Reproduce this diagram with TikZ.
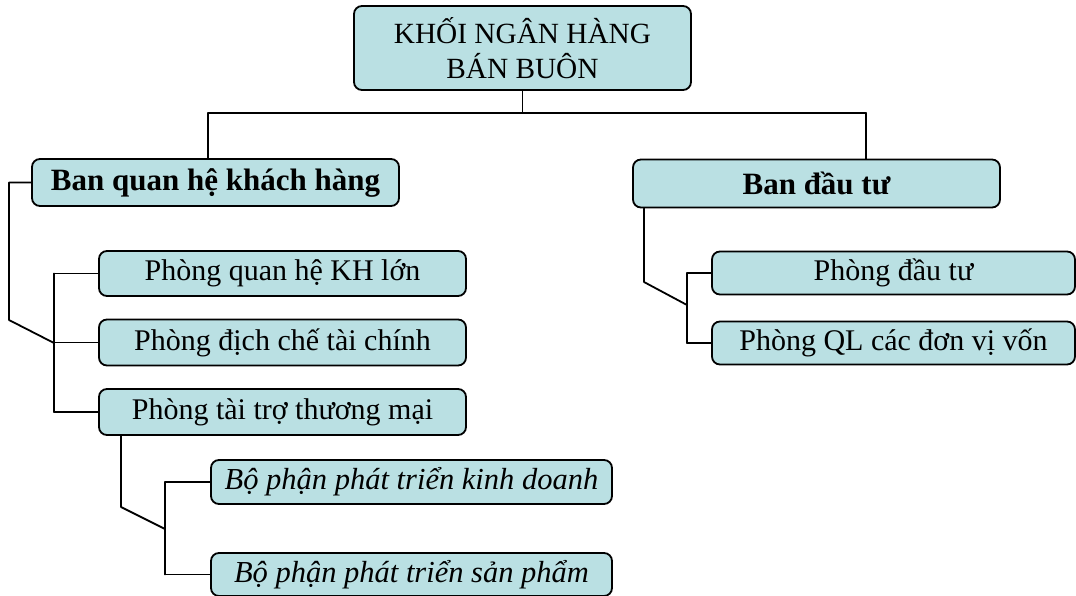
\documentclass[tikz,border=0pt]{standalone}
\usepackage{fontspec}
\setmainfont{Liberation Serif}
\definecolor{boxfill}{RGB}{186,224,227}
\begin{document}
\begin{tikzpicture}[x=1pt,y=-1pt,
  unit/.style={draw=black,line width=1.8pt,fill=boxfill,rounded corners=8pt,
    inner sep=0pt,align=center,font=\fontsize{30}{33}\selectfont},
  head/.style={font=\fontsize{31}{34}\selectfont\bfseries},
  sub/.style={font=\fontsize{30.5}{34}\selectfont\itshape},
  link/.style={line width=1.8pt,line cap=round,line join=round}]
\useasboundingbox (0,0) rectangle (1076,596);

% head office
\node[unit,font=\fontsize{29.3}{35}\selectfont,minimum width=337pt,minimum height=84pt] (top) at (522.5,48) {KHỐI NGÂN HÀNG\\BÁN BUÔN};

% departments
\node[unit,head,minimum width=367pt,minimum height=47pt] (ban1) at (215.5,182.5) {Ban quan hệ khách hàng};
\node[unit,head,minimum width=367pt,minimum height=48pt] (ban2) at (816.5,183.5) {Ban đầu tư};

% client relations offices
\node[unit,minimum width=367pt,minimum height=45pt] (p1) at (282.5,273.5) {Phòng quan hệ KH lớn};
\node[unit,minimum width=367pt,minimum height=46pt] (p2) at (282.5,342.5) {Phòng địch chế tài chính};
\node[unit,minimum width=367pt,minimum height=46pt] (p3) at (282.5,412) {Phòng tài trợ thương mại};

% investment offices
\node[unit,minimum width=363pt,minimum height=43pt] (q1) at (893.5,273) {Phòng đầu tư};
\node[unit,minimum width=363pt,minimum height=43pt] (q2) at (893.5,343) {Phòng QL các đơn vị vốn};

% trade finance units
\node[unit,sub,minimum width=401pt,minimum height=44pt] (r1) at (411.5,482) {Bộ phận phát triển kinh doanh};
\node[unit,sub,minimum width=401pt,minimum height=43pt] (r2) at (411.5,574.5) {Bộ phận phát triển sản phẩm};

% bus under the head office
\coordinate (busL) at (208,113);
\coordinate (busR) at (866,113);
\draw[link] (top.south) -- (top.south |- busL);
\draw[link] (busL) -- (busR);
\draw[link] (busL) -- (busL |- ban1.north);
\draw[link] (busR) -- (busR |- ban2.north);

% client relations branch
\coordinate (e1) at (9,320);
\coordinate (j1) at (54,343);
\draw[link] (ban1.west) -| (e1) -- (j1);
\draw[link] (j1 |- p1.west) -- (j1 |- p3.west);
\draw[link] (j1 |- p1.west) -- (p1.west);
\draw[link] (j1 |- p2.west) -- (p2.west);
\draw[link] (j1 |- p3.west) -- (p3.west);

% investment branch
\coordinate (e2) at (644,282);
\coordinate (j2) at (687,305);
\draw[link] (e2 |- ban2.south) -- (e2) -- (j2);
\draw[link] (j2 |- q1.west) -- (j2 |- q2.west);
\draw[link] (j2 |- q1.west) -- (q1.west);
\draw[link] (j2 |- q2.west) -- (q2.west);

% trade finance branch
\coordinate (e3) at (121,507);
\coordinate (j3) at (165,529);
\draw[link] (e3 |- p3.south) -- (e3) -- (j3);
\draw[link] (j3 |- r1.west) -- (j3 |- r2.west);
\draw[link] (j3 |- r1.west) -- (r1.west);
\draw[link] (j3 |- r2.west) -- (r2.west);
\end{tikzpicture}
\end{document}
